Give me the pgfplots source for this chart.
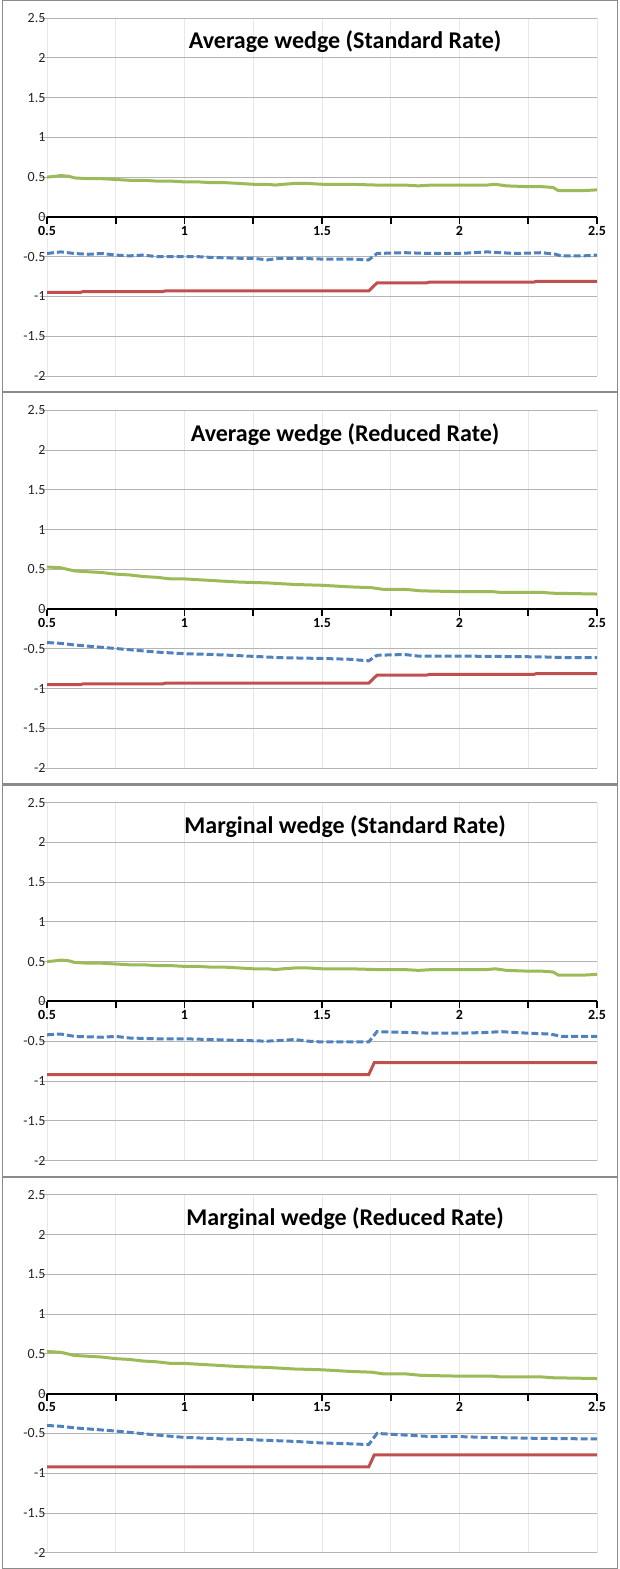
\documentclass[border=0pt]{standalone}
\usepackage{pgfplots}
\pgfplotsset{compat=1.18}
\usepackage{pgfplotstable}
\usepackage{fontspec}
\setmainfont{Carlito}
\definecolor{xgreen}{HTML}{9BBB59}
\definecolor{xblue}{HTML}{4F81BD}
\definecolor{xred}{HTML}{C0504D}
\definecolor{hgrid}{HTML}{B4B4B4}
\definecolor{vgrid}{HTML}{E8E8E8}
\definecolor{frame}{HTML}{8A8A8A}

\pgfplotstableread{
x y
0.50 0.50
0.53 0.51
0.55 0.52
0.58 0.51
0.60 0.49
0.65 0.48
0.70 0.48
0.75 0.47
0.80 0.46
0.85 0.46
0.90 0.45
0.95 0.45
1.00 0.44
1.05 0.44
1.10 0.43
1.15 0.43
1.20 0.42
1.25 0.41
1.30 0.41
1.33 0.40
1.36 0.41
1.40 0.42
1.45 0.42
1.50 0.41
1.60 0.41
1.70 0.40
1.80 0.40
1.85 0.39
1.90 0.40
2.00 0.40
2.10 0.40
2.13 0.41
2.17 0.39
2.25 0.38
2.30 0.38
2.34 0.37
2.36 0.33
2.45 0.33
2.50 0.34
}\greenstd

\pgfplotstableread{
x y
0.50 0.53
0.55 0.52
0.60 0.48
0.65 0.47
0.70 0.46
0.75 0.44
0.80 0.43
0.85 0.41
0.90 0.40
0.95 0.38
1.00 0.38
1.05 0.37
1.10 0.36
1.20 0.34
1.30 0.33
1.40 0.31
1.50 0.30
1.60 0.28
1.68 0.27
1.72 0.25
1.80 0.25
1.86 0.23
2.00 0.22
2.12 0.22
2.15 0.21
2.30 0.21
2.34 0.20
2.50 0.19
}\greenred

\pgfplotstableread{
x y
0.50 -0.46
0.55 -0.44
0.60 -0.46
0.65 -0.47
0.70 -0.46
0.75 -0.48
0.80 -0.49
0.85 -0.48
0.90 -0.50
1.00 -0.50
1.05 -0.50
1.10 -0.51
1.20 -0.52
1.25 -0.52
1.30 -0.54
1.35 -0.52
1.40 -0.52
1.50 -0.53
1.60 -0.53
1.67 -0.54
1.70 -0.46
1.80 -0.45
1.90 -0.46
2.00 -0.46
2.05 -0.45
2.10 -0.44
2.15 -0.45
2.20 -0.46
2.30 -0.45
2.35 -0.47
2.37 -0.49
2.45 -0.49
2.50 -0.48
}\blueavgstd

\pgfplotstableread{
x y
0.50 -0.42
0.55 -0.43
0.60 -0.45
0.70 -0.48
0.80 -0.51
0.90 -0.54
1.00 -0.56
1.10 -0.57
1.20 -0.585
1.35 -0.61
1.50 -0.62
1.60 -0.63
1.67 -0.65
1.70 -0.58
1.80 -0.57
1.85 -0.59
2.00 -0.59
2.30 -0.60
2.40 -0.61
2.50 -0.61
}\blueavgred

\pgfplotstableread{
x y
0.50 -0.42
0.55 -0.41
0.60 -0.44
0.70 -0.45
0.75 -0.44
0.80 -0.46
0.90 -0.47
1.00 -0.47
1.10 -0.48
1.20 -0.49
1.30 -0.50
1.40 -0.48
1.45 -0.50
1.50 -0.51
1.67 -0.51
1.70 -0.38
1.80 -0.39
1.90 -0.40
2.00 -0.40
2.10 -0.39
2.15 -0.38
2.25 -0.40
2.33 -0.41
2.37 -0.44
2.50 -0.44
}\bluemargstd

\pgfplotstableread{
x y
0.50 -0.40
0.55 -0.41
0.60 -0.43
0.75 -0.47
0.90 -0.52
1.00 -0.55
1.15 -0.57
1.25 -0.58
1.40 -0.60
1.50 -0.62
1.60 -0.63
1.67 -0.64
1.70 -0.50
1.80 -0.52
1.90 -0.54
2.00 -0.54
2.10 -0.55
2.25 -0.56
2.50 -0.57
}\bluemargred

\pgfplotstableread{
x y
0.50 -0.95
0.62 -0.95
0.63 -0.94
0.92 -0.94
0.93 -0.93
1.67 -0.93
1.70 -0.83
1.88 -0.83
1.89 -0.82
2.27 -0.82
2.28 -0.81
2.50 -0.81
}\redavg

\pgfplotstableread{
x y
0.50 -0.92
1.67 -0.92
1.69 -0.77
2.50 -0.77
}\redmarg

\tikzset{
  gline/.style={xgreen, line width=3pt},
  bline/.style={xblue, line width=3pt, dash pattern=on 7pt off 3pt},
  rline/.style={xred, line width=3pt},
  ttl/.style={font=\bfseries\fontsize{24}{28}\selectfont, black},
}
\pgfplotsset{
  panel/.style={
    scale only axis, width=550pt, height=358pt,
    anchor=north west,
    xmin=0.5, xmax=2.5, ymin=-2, ymax=2.5,
    axis x line=middle, axis y line=left,
    hide obscured x ticks=false, hide obscured y ticks=false,
    y axis line style={draw=none},
    x axis line style={black, line width=2pt, -},
    xtick={0.5,1,1.5,2,2.5},
    minor xtick={0.75,1.25,1.75,2.25},
    ytick={-2,-1.5,-1,-0.5,0,0.5,1,1.5,2,2.5},
    xtick align=center, ytick align=outside,
    major tick length=7pt, minor tick length=7pt,
    major x tick style={black, line width=1.6pt, yshift=-3.5pt},
    minor x tick style={black, line width=1.6pt, yshift=-3.5pt},
    ytick style={hgrid, line width=0.9pt},
    ymajorgrids, xmajorgrids, xminorgrids,
    major y grid style={hgrid, line width=0.9pt},
    major x grid style={vgrid, line width=0.8pt},
    minor x grid style={vgrid, line width=0.8pt},
    /pgf/number format/assume math mode=true,
    xticklabel style={font=\bfseries\fontsize{14}{15}\selectfont, black, yshift=-2pt},
    yticklabel style={font=\fontsize{14}{15}\selectfont, black!85, xshift=9pt},
    clip=false,
  },
}

\begin{document}
\begin{tikzpicture}
\useasboundingbox (0pt,0pt) rectangle (620pt,-1569pt);
\draw[frame, line width=1.2pt] (2.5pt,-0.6pt) rectangle (617.5pt,-391.65pt);
\draw[frame, line width=1.2pt] (2.5pt,-392.85pt) rectangle (617.5pt,-783.9pt);
\draw[frame, line width=1.2pt] (2.5pt,-785.1pt) rectangle (617.5pt,-1176.15pt);
\draw[frame, line width=1.2pt] (2.5pt,-1177.35pt) rectangle (617.5pt,-1568.4pt);

\begin{axis}[panel, at={(47pt,-18pt)}]
\addplot[gline] table[x=x,y=y] {\greenstd};
\addplot[bline] table[x=x,y=y] {\blueavgstd};
\addplot[rline] table[x=x,y=y] {\redavg};
\node[ttl] at (rel axis cs:0.542,0.933) {Average wedge (Standard Rate)};
\end{axis}

\begin{axis}[panel, at={(47pt,-410.25pt)}]
\addplot[gline] table[x=x,y=y] {\greenred};
\addplot[bline] table[x=x,y=y] {\blueavgred};
\addplot[rline] table[x=x,y=y] {\redavg};
\node[ttl] at (rel axis cs:0.542,0.933) {Average wedge (Reduced Rate)};
\end{axis}

\begin{axis}[panel, at={(47pt,-802.5pt)}]
\addplot[gline] table[x=x,y=y] {\greenstd};
\addplot[bline] table[x=x,y=y] {\bluemargstd};
\addplot[rline] table[x=x,y=y] {\redmarg};
\node[ttl] at (rel axis cs:0.542,0.933) {Marginal wedge (Standard Rate)};
\end{axis}

\begin{axis}[panel, at={(47pt,-1194.75pt)}]
\addplot[gline] table[x=x,y=y] {\greenred};
\addplot[bline] table[x=x,y=y] {\bluemargred};
\addplot[rline] table[x=x,y=y] {\redmarg};
\node[ttl] at (rel axis cs:0.542,0.933) {Marginal wedge (Reduced Rate)};
\end{axis}
\end{tikzpicture}
\end{document}
